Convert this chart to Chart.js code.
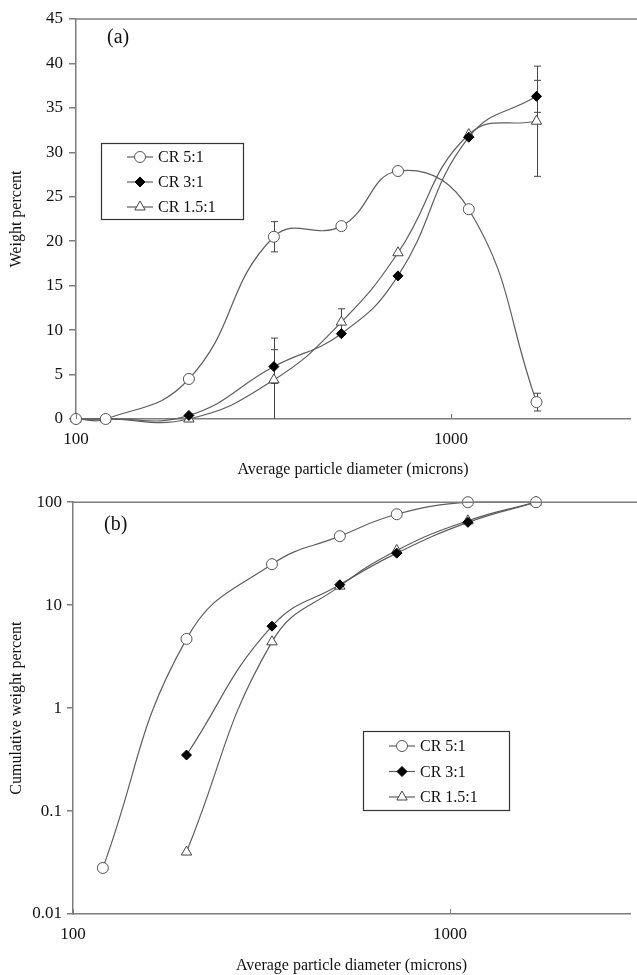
<!DOCTYPE html>
<html>
<head>
<meta charset="utf-8">
<script src="https://cdn.jsdelivr.net/npm/chart.js@4.4.1/dist/chart.umd.min.js"></script>
<style>
  html, body { margin: 0; padding: 0; background: #fff; }
  canvas { display: block; }
</style>
</head>
<body>
<canvas id="chartA" width="637" height="487"></canvas>
<canvas id="chartB" width="637" height="488"></canvas>
<script>
// average particle diameter of each sieve fraction (microns)
const diameters = [100, 120, 200, 337, 510, 722, 1115, 1690];
const xTicks = [100, 1000];
const seriesNames = ['CR 5:1', 'CR 3:1', 'CR 1.5:1'];

// (a) weight percent in each fraction
const weightCR5  = [0, 0, 4.5, 20.5, 21.7, 27.9, 23.6, 1.9];
const weightCR3  = [0, 0, 0.4, 5.9, 9.6, 16.1, 31.7, 36.3];
const weightCR15 = [0, 0, 0, 4.4, 10.9, 18.7, 32.0, 33.5];
// error bars (+/-), 0 = none
const errCR5  = [0, 0, 0.3, 1.7, 0, 0, 0, 1.0];
const errCR3  = [0, 0, 0, 1.9, 0, 0, 0, 1.8];
const errCR15 = [0, 0, 0, 4.7, 1.5, 0, 0, 6.2];
const weightTicksStep = 5;

// (b) cumulative weight percent, null = not plotted
const cumCR5  = [null, 0.028, 4.7, 25, 46.8, 76.4, 100, 100];
const cumCR3  = [null, null, 0.35, 6.25, 15.8, 32, 63.7, 100];
const cumCR15 = [null, null, 0.04, 4.4, 15.3, 34, 66, 100];
const cumTicks = [0.01, 0.1, 1, 10, 100];

const serif = "'Liberation Serif', 'Times New Roman', serif";
const textColor = '#111';
const axisGray = '#7c7c7c';
const lineGray = '#5e5e5e';

const markers = [
  { pointStyle: 'circle',   pointRadius: 5.5, pointBackgroundColor: '#fff', pointBorderColor: '#555' },
  { pointStyle: 'rectRot',  pointRadius: 5,   pointBackgroundColor: '#000', pointBorderColor: '#000' },
  { pointStyle: 'triangle', pointRadius: 6,   pointBackgroundColor: '#fff', pointBorderColor: '#444' }
];

function toPoints(ys) {
  return diameters.map((x, i) => ({ x: x, y: ys[i] })).filter(p => p.y !== null);
}

function makeDatasets(seriesList) {
  return seriesList.map((ys, i) => Object.assign({
    label: seriesNames[i],
    data: toPoints(ys),
    borderColor: lineGray,
    borderWidth: 1.2,
    pointBorderWidth: 1,
    pointHoverRadius: 6,
    tension: 0.45,
    fill: false,
    clip: false
  }, markers[i]));
}

// --- plugins ---
const errorBars = {
  id: 'errorBars',
  beforeDatasetsDraw(chart, args, o) {
    if (!o.sets) return;
    const ctx = chart.ctx;
    const xs = chart.scales.x, ys = chart.scales.y;
    ctx.save();
    ctx.strokeStyle = '#444';
    ctx.lineWidth = 1;
    o.sets.forEach((errs, i) => {
      const vals = o.values[i];
      errs.forEach((e, j) => {
        if (!e) return;
        const px = Math.round(xs.getPixelForValue(diameters[j])) + 0.5;
        const hi = vals[j] + e;
        const lo = vals[j] - e;
        const yHi = ys.getPixelForValue(hi);
        const yLo = ys.getPixelForValue(Math.max(lo, ys.min));
        ctx.beginPath();
        ctx.moveTo(px, yHi); ctx.lineTo(px, yLo);
        ctx.moveTo(px - 3.5, yHi); ctx.lineTo(px + 3.5, yHi);
        if (lo > ys.min) { ctx.moveTo(px - 3.5, yLo); ctx.lineTo(px + 3.5, yLo); }
        ctx.stroke();
      });
    });
    ctx.restore();
  }
};

const frame = {
  id: 'frame',
  afterDraw(chart, args, o) {
    const ctx = chart.ctx;
    const a = chart.chartArea;
    ctx.save();
    ctx.strokeStyle = axisGray;
    ctx.lineWidth = 1.5;
    ctx.beginPath();
    ctx.moveTo(a.left, a.top);
    ctx.lineTo(chart.width, a.top);
    ctx.stroke();
    // small inside tick marks on the x axis
    ctx.lineWidth = 1;
    xTicks.forEach(v => {
      const px = Math.round(chart.scales.x.getPixelForValue(v)) + 0.5;
      ctx.beginPath();
      ctx.moveTo(px, a.bottom);
      ctx.lineTo(px, a.bottom - 5);
      ctx.stroke();
    });
    // panel letter
    ctx.fillStyle = textColor;
    ctx.font = '20px ' + serif;
    ctx.textBaseline = 'middle';
    ctx.fillText(o.label, o.lx, o.ly);
    ctx.restore();
  }
};

const boxLegend = {
  id: 'boxLegend',
  afterDraw(chart, args, o) {
    const ctx = chart.ctx;
    ctx.save();
    ctx.strokeStyle = '#333';
    ctx.lineWidth = 1.2;
    ctx.strokeRect(o.x + 0.5, o.y + 0.5, o.w, o.h);
    ctx.font = '16px ' + serif;
    ctx.textBaseline = 'middle';
    chart.data.datasets.forEach((ds, i) => {
      const cy = o.y + o.firstRow + i * o.rowGap;
      const cx = o.x + o.markerX;
      ctx.strokeStyle = ds.borderColor;
      ctx.lineWidth = 1.2;
      ctx.beginPath();
      ctx.moveTo(cx - 13, cy); ctx.lineTo(cx + 13, cy);
      ctx.stroke();
      ctx.fillStyle = ds.pointBackgroundColor;
      ctx.strokeStyle = ds.pointBorderColor;
      ctx.lineWidth = 1;
      Chart.helpers.drawPoint(ctx, { pointStyle: ds.pointStyle, radius: ds.pointRadius, borderWidth: 1, rotation: 0 }, cx, cy);
      ctx.fillStyle = textColor;
      ctx.fillText(ds.label, cx + 18, cy + 1);
    });
    ctx.restore();
  }
};

const tickFont = { family: serif, size: 17 };
const titleFont = { family: serif, size: 16 };

function xAxis(h, titleBottom) {
  return {
    type: 'logarithmic',
    min: 100,
    max: 3000,
    afterBuildTicks: s => { s.ticks = xTicks.map(v => ({ value: v })); },
    afterFit: s => { s.height = h; },
    ticks: { font: tickFont, color: textColor, padding: 2, maxRotation: 0, autoSkip: false, callback: v => String(v) },
    grid: { display: false },
    border: { color: axisGray, width: 1.5 },
    title: { display: true, text: 'Average particle diameter (microns)', font: titleFont, color: textColor, padding: { top: 0, bottom: titleBottom } }
  };
}

// (a)
new Chart(document.getElementById('chartA'), {
  type: 'line',
  data: { datasets: makeDatasets([weightCR5, weightCR3, weightCR15]) },
  plugins: [errorBars, frame, boxLegend],
  options: {
    responsive: false,
    animation: false,
    layout: { padding: { top: 19, left: 0, right: 6, bottom: 0 } },
    elements: { line: { capBezierPoints: false } },
    scales: {
      x: xAxis(68, 8),
      y: {
        type: 'linear',
        min: 0,
        max: 45,
        afterFit: s => { s.width = 76; },
        ticks: { stepSize: weightTicksStep, font: tickFont, color: textColor, padding: 6 },
        grid: { drawOnChartArea: false, drawTicks: true, tickLength: 7, color: axisGray, lineWidth: 1.5 },
        border: { color: axisGray, width: 1.5 },
        title: { display: true, text: 'Weight percent', font: titleFont, color: textColor, padding: { top: 7, bottom: 0 } }
      }
    },
    plugins: {
      legend: { display: false },
      tooltip: { enabled: false },
      errorBars: { sets: [errCR5, errCR3, errCR15], values: [weightCR5, weightCR3, weightCR15] },
      frame: { label: '(a)', lx: 107, ly: 38 },
      boxLegend: { x: 101, y: 143, w: 142, h: 76, markerX: 39, firstRow: 14, rowGap: 25 }
    }
  }
});

// (b)
new Chart(document.getElementById('chartB'), {
  type: 'line',
  data: { datasets: makeDatasets([cumCR5, cumCR3, cumCR15]) },
  plugins: [frame, boxLegend],
  options: {
    responsive: false,
    animation: false,
    layout: { padding: { top: 15, left: 0, right: 4, bottom: 0 } },
    elements: { line: { capBezierPoints: true } },
    scales: {
      x: xAxis(61, 0),
      y: {
        type: 'logarithmic',
        min: 0.01,
        max: 100,
        afterBuildTicks: s => { s.ticks = cumTicks.map(v => ({ value: v })); },
        afterFit: s => { s.width = 73; },
        ticks: { font: tickFont, color: textColor, padding: 5, callback: v => String(v) },
        grid: { drawOnChartArea: false, drawTicks: true, tickLength: 6, color: axisGray, lineWidth: 1.5 },
        border: { color: axisGray, width: 1.5 },
        title: { display: true, text: 'Cumulative weight percent', font: titleFont, color: textColor, padding: { top: 7, bottom: 0 } }
      }
    },
    plugins: {
      legend: { display: false },
      tooltip: { enabled: false },
      frame: { label: '(b)', lx: 104, ly: 38 },
      boxLegend: { x: 363, y: 244, w: 146, h: 79, markerX: 39, firstRow: 15, rowGap: 25.5 }
    }
  }
});
</script>
</body>
</html>
